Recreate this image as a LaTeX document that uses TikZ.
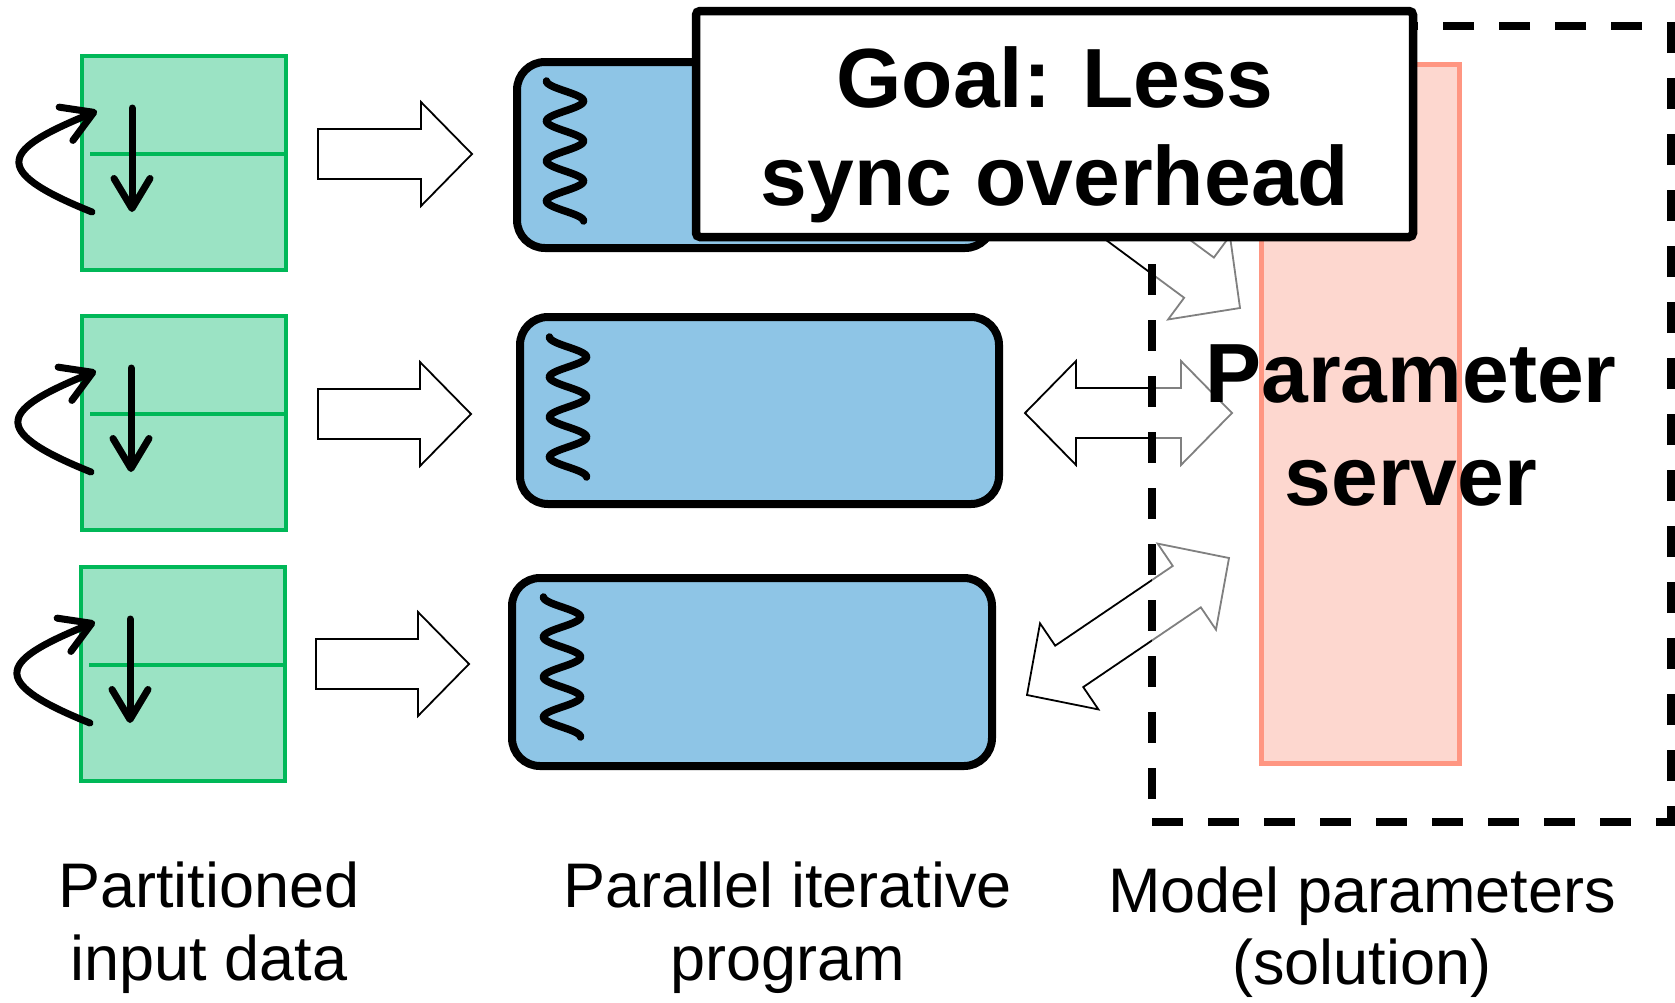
\documentclass[tikz,border=0pt]{standalone}
\usepackage{fontspec}
\setmainfont{Liberation Sans}
\usetikzlibrary{calc,arrows.meta}
\definecolor{gfill}{RGB}{155,227,196}
\definecolor{gline}{RGB}{0,184,88}
\definecolor{bfill}{RGB}{142,197,230}
\definecolor{pfill}{RGB}{253,215,207}
\definecolor{pline}{RGB}{255,150,130}
\tikzset{
  greenbox/.style={draw=gline, fill=gfill, line width=4.5pt, minimum width=204pt, minimum height=214pt, inner sep=0pt, outer sep=0pt, anchor=north west},
  midline/.style={draw=gline, line width=3.5pt},
  bluebox/.style={draw=black, fill=bfill, line width=8pt, rounded corners=28pt, inner sep=0pt, outer sep=0pt, anchor=north west},
  wavy/.style={line width=7.5pt, line cap=round},
  garrow/.style={line width=7pt, line cap=round, -{Straight Barb[length=30pt,width=36pt,round]}},
  blockarr/.style={draw=black, fill=white, line width=1.8pt, line join=miter},
  pinkbox/.style={draw=pline, fill=pfill, line width=5pt, inner sep=0pt, outer sep=0pt, anchor=north west},
  dashbox/.style={draw=black, line width=8pt, dash pattern=on 31pt off 25pt, line cap=butt},
  goalbox/.style={draw=black, fill=white, line width=8.5pt, rounded corners=4pt, inner sep=0pt, outer sep=0pt, anchor=north west},
  bigbold/.style={font=\fontsize{84pt}{100pt}\selectfont\bfseries, inner sep=0pt, anchor=base},
  caption/.style={font=\fontsize{63pt}{73pt}\selectfont, inner sep=0pt, anchor=base}
}
\newcommand{\rblock}[2]{%
  \path ($(#2)!51pt!(#1)$) coordinate (hbx);
  \draw[blockarr] ($(#1)!25pt!90:(#2)$) -- ($(hbx)!25pt!90:(#2)$) -- ($(hbx)!52pt!90:(#2)$)
     -- (#2) -- ($(hbx)!52pt!-90:(#2)$) -- ($(hbx)!25pt!-90:(#2)$) -- ($(#1)!25pt!-90:(#2)$) -- cycle;}
\newcommand{\dblock}[2]{%
  \path ($(#1)!51pt!(#2)$) coordinate (hax) ($(#2)!51pt!(#1)$) coordinate (hbx);
  \draw[blockarr] (#1) -- ($(hax)!52pt!90:(#2)$) -- ($(hax)!25pt!90:(#2)$) -- ($(hbx)!25pt!-90:(#1)$)
     -- ($(hbx)!52pt!-90:(#1)$) -- (#2) -- ($(hbx)!52pt!90:(#1)$) -- ($(hbx)!25pt!90:(#1)$)
     -- ($(hax)!25pt!-90:(#2)$) -- ($(hax)!52pt!-90:(#2)$) -- cycle;}
\newcommand{\wavething}[2]{%
  \draw[wavy] plot[domain=0:7, samples=140, smooth] ({#1-18.5*cos(\x*180)},{#2+20*\x});}
\newcommand{\iterarrows}[2]{% left x, mid y
  \draw[garrow] (#1+50,#2-46) -- (#1+50,#2+58);
  \draw[garrow] (#1+10,#2+58) .. controls (#1-97,#2+15) and (#1-77,#2-5) .. (#1+15,#2-43);}
\begin{document}
\begin{tikzpicture}[x=1pt,y=-1pt]
\useasboundingbox (0,0) rectangle (1675,1002);

% partitioned input data
\node[greenbox] (g1) at (82,56) {};
\node[greenbox] (g2) at (82,316) {};
\node[greenbox] (g3) at (81,567) {};
\draw[midline] (90,154) -- (286,154);
\draw[midline] (90,414) -- (286,414);
\draw[midline] (89,665) -- (285,665);
\iterarrows{82}{154}
\iterarrows{81}{414}
\iterarrows{80}{665}

% parallel iterative program
\node[bluebox, minimum width=476pt, minimum height=186pt] (b1) at (517,62) {};
\node[bluebox, minimum width=479pt, minimum height=187pt] (b2) at (520,317) {};
\node[bluebox, minimum width=480pt, minimum height=188pt] (b3) at (512,578) {};
\wavething{565}{81}
\wavething{568}{337}
\wavething{562}{597}

% input arrows
\coordinate (i1a) at (318,154); \coordinate (i1b) at (472,154);
\coordinate (i2a) at (318,414); \coordinate (i2b) at (471,414);
\coordinate (i3a) at (316,664); \coordinate (i3b) at (469,664);
\rblock{i1a}{i1b}
\rblock{i2a}{i2b}
\rblock{i3a}{i3b}

% exchange arrows
\coordinate (d1a) at (1044,163); \coordinate (d1b) at (1240,308);
\coordinate (d2a) at (1025,413); \coordinate (d2b) at (1232,413);
\coordinate (d3a) at (1027,695); \coordinate (d3b) at (1229,558);
\dblock{d1a}{d1b}
\dblock{d2a}{d2b}
\dblock{d3a}{d3b}

% model parameters region
\fill[white, opacity=0.5] (1152,26) rectangle (1671,822);
\node[pinkbox, minimum width=198pt, minimum height=699pt] (ps) at (1261,64) {};
\node[bigbold] (pt1) at (1411,402) {Parameter};
\node[bigbold] (pt2) at (1411,505) {server};
\coordinate (dbl) at (1152,822); \coordinate (dbr) at (1671,822);
\coordinate (dtr) at (1671,26); \coordinate (dtl) at (1152,26);
\draw[dashbox] (dbl) -- (dbr) -- (dtr) -- (dtl) -- cycle;

% goal
\node[goalbox, minimum width=717pt, minimum height=226pt] (goal) at (696,11) {};
\node[bigbold] (gt1) at (1055,107) {Goal: Less};
\node[bigbold] (gt2) at (1055,205) {sync overhead};

% captions
\node[caption] (c1a) at (209,907) {Partitioned};
\node[caption] (c1b) at (209,980) {input data};
\node[caption] (c2a) at (788,907) {Parallel iterative};
\node[caption] (c2b) at (788,980) {program};
\node[caption] (c3a) at (1362,912) {Model parameters};
\node[caption] (c3b) at (1362,984) {(solution)};
\end{tikzpicture}
\end{document}
